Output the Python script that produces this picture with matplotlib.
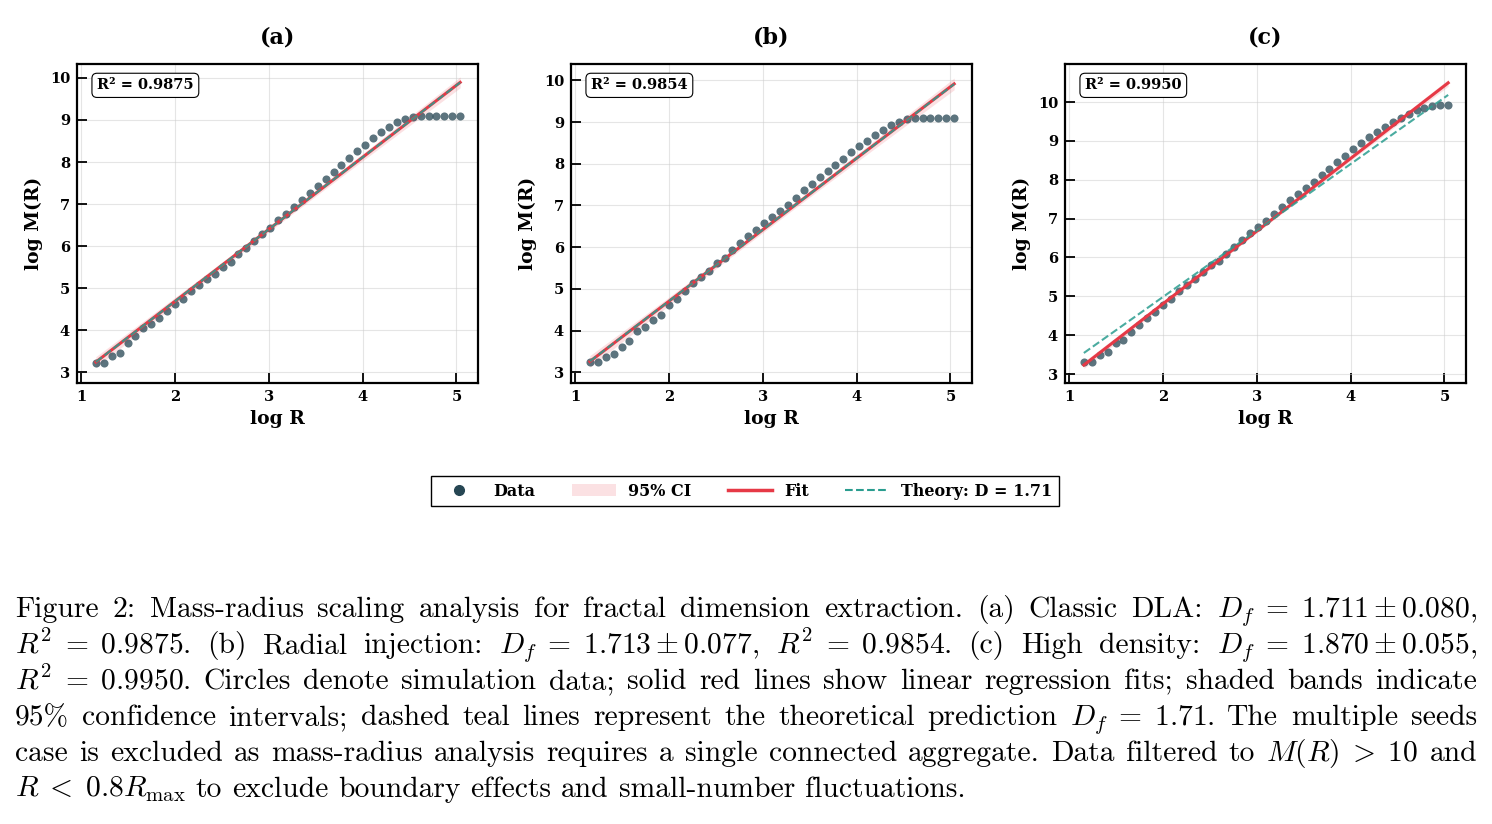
import numpy as np
import matplotlib
matplotlib.use("Agg")
import matplotlib.pyplot as plt
from matplotlib.lines import Line2D
from matplotlib.patches import Patch

# ---- data ---------------------------------------------------------------
log_r = [1.156, 1.240, 1.325, 1.409, 1.494, 1.578, 1.663, 1.747, 1.832, 1.916,
         2.000, 2.085, 2.169, 2.254, 2.338, 2.423, 2.507, 2.592, 2.676, 2.761,
         2.845, 2.929, 3.014, 3.098, 3.183, 3.267, 3.352, 3.436, 3.521, 3.605,
         3.690, 3.774, 3.858, 3.943, 4.027, 4.112, 4.196, 4.281, 4.365, 4.450,
         4.534, 4.619, 4.703, 4.787, 4.872, 4.956, 5.040]

log_m_classic = [3.22, 3.22, 3.38, 3.47, 3.71, 3.86, 4.06, 4.15, 4.30, 4.45,
                 4.63, 4.75, 4.93, 5.08, 5.22, 5.33, 5.50, 5.63, 5.81, 5.95,
                 6.12, 6.29, 6.44, 6.62, 6.76, 6.93, 7.10, 7.27, 7.42, 7.60,
                 7.76, 7.92, 8.10, 8.26, 8.41, 8.57, 8.71, 8.83, 8.95, 9.02,
                 9.06, 9.10, 9.10, 9.10, 9.10, 9.10, 9.10]

log_m_radial = [3.26, 3.25, 3.36, 3.43, 3.61, 3.76, 3.98, 4.08, 4.25, 4.37,
                4.62, 4.75, 4.94, 5.13, 5.29, 5.44, 5.62, 5.75, 5.93, 6.10,
                6.26, 6.40, 6.57, 6.72, 6.87, 7.02, 7.18, 7.36, 7.51, 7.68,
                7.83, 7.97, 8.12, 8.28, 8.42, 8.55, 8.68, 8.81, 8.92, 9.01,
                9.06, 9.09, 9.10, 9.10, 9.10, 9.10, 9.10]

log_m_dense = [3.30, 3.30, 3.50, 3.58, 3.79, 3.88, 4.09, 4.25, 4.44, 4.59,
               4.78, 4.92, 5.13, 5.28, 5.45, 5.63, 5.80, 5.92, 6.10, 6.26,
               6.45, 6.62, 6.79, 6.95, 7.13, 7.30, 7.47, 7.63, 7.79, 7.95,
               8.12, 8.29, 8.45, 8.61, 8.78, 8.95, 9.09, 9.24, 9.36, 9.48,
               9.60, 9.70, 9.79, 9.86, 9.90, 9.93, 9.93]

panel_titles = ["(a)", "(b)", "(c)"]
fit_slopes = [1.711, 1.713, 1.870]
fit_intercepts = [1.27, 1.28, 1.07]
r_squared = [0.9875, 0.9854, 0.9950]
theory_d = 1.71
y_limits = [(2.75, 10.33), (2.745, 10.39), (2.77, 10.98)]

caption_lines = [
    r"Figure 2: Mass-radius scaling analysis for fractal dimension extraction. (a) Classic DLA: $D_f\;=\;1.711\pm0.080$,",
    r"$R^2\;=\;0.9875$. (b) Radial injection: $D_f\;=\;1.713\pm0.077$, $R^2\;=\;0.9854$. (c) High density: $D_f\;=\;1.870\pm0.055$,",
    r"$R^2\;=\;0.9950$. Circles denote simulation data; solid red lines show linear regression fits; shaded bands indicate",
    r"95% confidence intervals; dashed teal lines represent the theoretical prediction $D_f\;=\;1.71$. The multiple seeds",
    r"case is excluded as mass-radius analysis requires a single connected aggregate. Data filtered to $M(R)\;>\;10$ and",
    r"$R\;<\;0.8R_{\mathrm{max}}$ to exclude boundary effects and small-number fluctuations.",
]

# ---- style --------------------------------------------------------------
DATA_COLOR = "#264653"
FIT_COLOR = "#e63946"
THEORY_COLOR = "#2a9d8f"

plt.rcParams["font.family"] = "DejaVu Serif"
plt.rcParams["font.weight"] = "bold"
plt.rcParams["axes.labelweight"] = "bold"
plt.rcParams["axes.titleweight"] = "bold"
plt.rcParams["mathtext.fontset"] = "cm"

W, H = 1492, 824
fig = plt.figure(figsize=(W / 100, H / 100), dpi=100)

lefts = [77, 571, 1065]
series = [log_m_classic, log_m_radial, log_m_dense]
x = np.array(log_r)

for i in range(3):
    ax = fig.add_axes([lefts[i] / W, 1 - 383 / H, 401 / W, 319 / H])
    y = np.array(series[i])
    slope, icpt = fit_slopes[i], fit_intercepts[i]

    # fit line and 95% confidence band from residuals
    x_line = np.linspace(x.min(), x.max(), 100)
    y_fit = icpt + slope * x_line
    resid = y - (icpt + slope * x)
    n = len(x)
    s_err = np.sqrt(np.sum(resid ** 2) / (n - 2))
    sxx = np.sum((x - x.mean()) ** 2)
    ci = 2.01 * s_err * np.sqrt(1 / n + (x_line - x.mean()) ** 2 / sxx)

    ax.fill_between(x_line, y_fit - ci, y_fit + ci, color=FIT_COLOR, alpha=0.15,
                    linewidth=0, zorder=1)
    ax.scatter(x, y, s=34, color=DATA_COLOR, alpha=0.75, linewidths=0, zorder=3)
    ax.plot(x_line, y_fit, color=FIT_COLOR, lw=2.2, zorder=4)

    # theoretical slope anchored at the fit's centre
    xm = x.mean()
    y_th = icpt + slope * xm + theory_d * (x_line - xm)
    ax.plot(x_line, y_th, color=THEORY_COLOR, lw=1.5, ls="--", alpha=0.85, zorder=5)

    ax.text(0.05, 0.955, f"R² = {r_squared[i]:.4f}", transform=ax.transAxes,
            fontsize=10.5, fontweight="bold", va="top", ha="left",
            bbox=dict(boxstyle="round,pad=0.35", facecolor="white",
                      edgecolor="black", linewidth=0.8), zorder=6)

    ax.set_xlim(0.955, 5.23)
    ax.set_ylim(*y_limits[i])
    ax.set_xticks([1, 2, 3, 4, 5])
    ax.set_xlabel("log R", fontsize=13.5, labelpad=4)
    ax.set_ylabel("log M(R)", fontsize=13.5, labelpad=5)
    ax.set_title(panel_titles[i], fontsize=16, pad=15)
    ax.grid(True, color="#cccccc", alpha=0.5, lw=0.8)
    ax.set_axisbelow(True)
    ax.tick_params(direction="in", length=7, width=1.3, labelsize=10.5, pad=5)
    for sp in ax.spines.values():
        sp.set_linewidth(1.6)

handles = [
    Line2D([], [], marker="o", ls="none", color=DATA_COLOR, markersize=7),
    Patch(facecolor=FIT_COLOR, alpha=0.15, edgecolor="none"),
    Line2D([], [], color=FIT_COLOR, lw=2.5),
    Line2D([], [], color=THEORY_COLOR, lw=1.5, ls="--"),
]
labels = ["Data", "95% CI", "Fit", f"Theory: D = {theory_d}"]
leg = fig.legend(handles, labels, loc="center", bbox_to_anchor=(745 / W, 1 - 491 / H),
                 ncol=4, fontsize=11.5, frameon=True, fancybox=False, edgecolor="black",
                 framealpha=1, columnspacing=2.3, handlelength=2.75, handletextpad=0.75,
                 borderpad=0.4)
leg.get_frame().set_linewidth(1.0)


# ---- justified caption --------------------------------------------------
def split_tokens(line):
    tokens, cur, in_math = [], "", False
    for ch in line:
        if ch == "$":
            in_math = not in_math
            cur += ch
        elif ch == " " and not in_math:
            if cur:
                tokens.append(cur)
            cur = ""
        else:
            cur += ch
    if cur:
        tokens.append(cur)
    return tokens


renderer = fig.canvas.get_renderer()
left_px, right_px = 15, 1477
baselines = [617, 653, 689, 725, 761, 797]
cap_size = 21.3
for li, line in enumerate(caption_lines):
    toks = split_tokens(line)
    objs = [fig.text(0, 1 - baselines[li] / H, t, fontsize=cap_size, family="cmr10",
                     fontweight="normal", va="baseline", ha="left") for t in toks]
    widths = [o.get_window_extent(renderer).width for o in objs]
    if li < len(caption_lines) - 1:
        gap = (right_px - left_px - sum(widths)) / (len(toks) - 1)
    else:
        gap = cap_size * 0.333 * 100 / 72
    xpos = left_px
    for o, w in zip(objs, widths):
        o.set_x(xpos / W)
        xpos += w + gap

fig.savefig("out.png", dpi=100)
